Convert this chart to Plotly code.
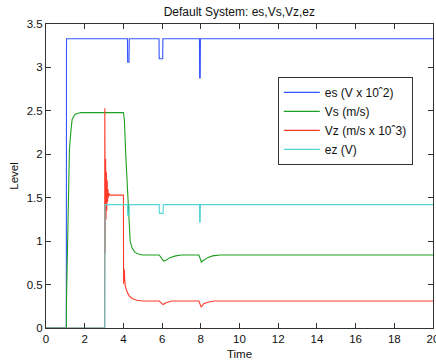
import plotly.graph_objects as go

# ---- data ----
es_t = [0, 1.05, 1.06, 4.21, 4.22, 4.29, 4.30, 5.84, 5.85, 6.03, 6.04, 7.93, 7.94, 7.97, 7.98, 20]
es_v = [0, 0, 3.33, 3.33, 3.06, 3.06, 3.33, 3.33, 3.10, 3.10, 3.33, 3.33, 2.88, 2.88, 3.33, 3.33]

vs_t = [0, 1.05, 1.06, 1.10, 1.14, 1.17, 1.21, 1.28, 1.35, 1.5, 1.8, 4.0, 4.05, 4.12, 4.2, 4.26,
        4.3, 4.35, 4.45, 4.6, 4.8, 5.0, 5.85, 5.95, 6.08, 6.2, 6.4, 6.7, 7.0, 7.9, 7.98, 8.03,
        8.15, 8.35, 8.6, 9.0, 20]
vs_v = [0, 0, 0.33, 0.95, 1.5, 1.8, 2.05, 2.25, 2.4, 2.46, 2.48, 2.48, 2.4, 2.0, 1.6, 1.3,
        1.12, 1.0, 0.92, 0.87, 0.85, 0.84, 0.84, 0.81, 0.77, 0.78, 0.81, 0.83, 0.84, 0.84, 0.78, 0.76,
        0.78, 0.81, 0.83, 0.84, 0.84]

vz_t = [0, 3.03, 3.04, 3.06, 3.08, 3.10, 3.12, 3.14, 3.16, 3.18, 3.20, 3.22, 3.25, 3.3, 4.0,
        4.01, 4.02, 4.03, 4.05, 4.07, 4.1, 4.2, 4.3, 4.45, 4.7, 5.0, 5.85, 5.95, 6.05, 6.2,
        6.5, 7.9, 7.98, 8.02, 8.15, 8.4, 8.7, 20]
vz_v = [0, 0, 2.53, 0.86, 1.95, 1.25, 1.8, 1.35, 1.7, 1.45, 1.6, 1.5, 1.55, 1.53, 1.53,
        0.51, 0.68, 0.56, 0.66, 0.55, 0.48, 0.41, 0.37, 0.34, 0.32, 0.31, 0.31, 0.29, 0.27, 0.29,
        0.31, 0.31, 0.25, 0.24, 0.28, 0.30, 0.31, 0.31]

ez_t = [0, 3.04, 3.05, 4.21, 4.22, 4.29, 4.30, 5.85, 5.86, 6.05, 6.06, 7.93, 7.94, 7.97, 7.98, 20]
ez_v = [0, 0, 1.42, 1.42, 1.30, 1.30, 1.42, 1.42, 1.32, 1.32, 1.42, 1.42, 1.22, 1.22, 1.42, 1.42]

names = ["es (V x 10ˆ2)", "Vs (m/s)", "Vz (m/s x 10ˆ3)", "ez (V)"]
colors = ["#3355ff", "#1f9f1f", "#ff3a2a", "#55d5d5"]

x_ticks = [0, 2, 4, 6, 8, 10, 12, 14, 16, 18, 20]
y_ticks = [0, 0.5, 1, 1.5, 2, 2.5, 3, 3.5]

fig = go.Figure()
for t, v, n, c in zip([es_t, vs_t, vz_t, ez_t], [es_v, vs_v, vz_v, ez_v], names, colors):
    fig.add_trace(go.Scatter(x=t, y=v, mode="lines", name=n,
                             line=dict(color=c, width=1.1)))

font = "Liberation Sans, Arial, Helvetica, sans-serif"
axis_common = dict(showgrid=False, zeroline=False, showline=True, mirror="ticks",
                   linecolor="#333333", linewidth=1, ticks="inside", ticklen=5,
                   tickcolor="#333333", tickwidth=1, automargin=False,
                   layer="above traces", ticklabeloverflow="allow",
                   tickfont=dict(family=font, size=11.5, color="#111111"))

fig.update_layout(
    width=436, height=364,
    margin=dict(l=46, r=3, t=24, b=36),
    paper_bgcolor="white", plot_bgcolor="white",
    title=dict(text="Default System: es,Vs,Vz,ez", x=0.549, xanchor="center",
               y=0.967, yanchor="middle",
               font=dict(family=font, size=12, color="#111111")),
    xaxis=dict(range=[0, 20], tickvals=x_ticks, ticktext=[str(v) for v in x_ticks],
               title=dict(text="Time", standoff=6,
                          font=dict(family=font, size=11.5, color="#111111")),
               **axis_common),
    yaxis=dict(range=[0, 3.5], tickvals=y_ticks, ticktext=[f"{v:g}" for v in y_ticks],
               title=dict(text="Level", standoff=5,
                          font=dict(family=font, size=11.5, color="#111111")),
               **axis_common),
    legend=dict(x=0.599, y=0.826, xanchor="left", yanchor="top",
                bgcolor="white", bordercolor="#333333", borderwidth=1,
                font=dict(family=font, size=12, color="#111111"),
                itemwidth=36, tracegroupgap=0),
    showlegend=True,
)

fig.write_html("out.html", config={"displayModeBar": False},
               post_script="document.body.style.margin='0';document.body.style.overflow='hidden';")
